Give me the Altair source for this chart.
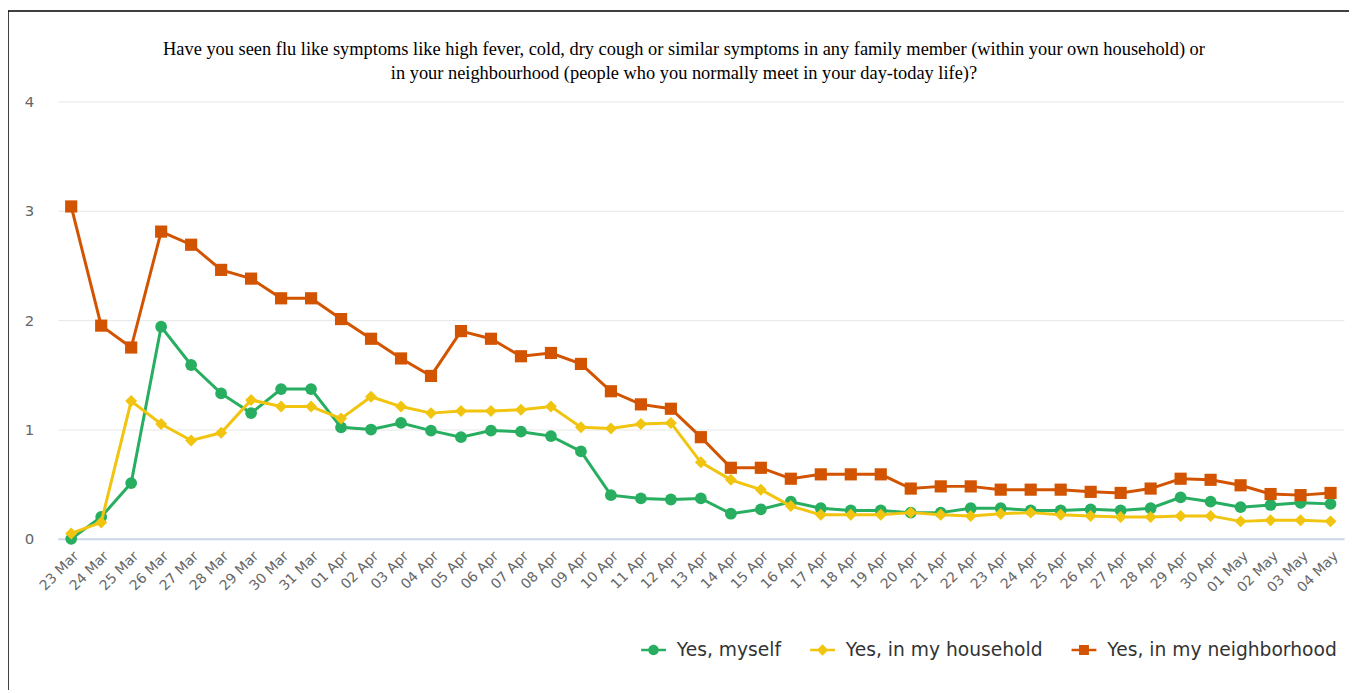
import altair as alt
import pandas as pd

dates = ["23 Mar", "24 Mar", "25 Mar", "26 Mar", "27 Mar", "28 Mar", "29 Mar", "30 Mar", "31 Mar",
         "01 Apr", "02 Apr", "03 Apr", "04 Apr", "05 Apr", "06 Apr", "07 Apr", "08 Apr", "09 Apr",
         "10 Apr", "11 Apr", "12 Apr", "13 Apr", "14 Apr", "15 Apr", "16 Apr", "17 Apr", "18 Apr",
         "19 Apr", "20 Apr", "21 Apr", "22 Apr", "23 Apr", "24 Apr", "25 Apr", "26 Apr", "27 Apr",
         "28 Apr", "29 Apr", "30 Apr", "01 May", "02 May", "03 May", "04 May"]

myself = [0.0, 0.2, 0.51, 1.94, 1.59, 1.33, 1.15, 1.37, 1.37,
          1.02, 1.0, 1.06, 0.99, 0.93, 0.99, 0.98, 0.94, 0.8,
          0.4, 0.37, 0.36, 0.37, 0.23, 0.27, 0.34, 0.28, 0.26,
          0.26, 0.24, 0.24, 0.28, 0.28, 0.26, 0.26, 0.27, 0.26,
          0.28, 0.38, 0.34, 0.29, 0.31, 0.33, 0.32]

household = [0.05, 0.15, 1.26, 1.05, 0.9, 0.97, 1.27, 1.21, 1.21,
             1.1, 1.3, 1.21, 1.15, 1.17, 1.17, 1.18, 1.21, 1.02,
             1.01, 1.05, 1.06, 0.7, 0.54, 0.45, 0.3, 0.22, 0.22,
             0.22, 0.24, 0.22, 0.21, 0.23, 0.24, 0.22, 0.21, 0.2,
             0.2, 0.21, 0.21, 0.16, 0.17, 0.17, 0.16]

neighborhood = [3.04, 1.95, 1.75, 2.81, 2.69, 2.46, 2.38, 2.2, 2.2,
                2.01, 1.83, 1.65, 1.49, 1.9, 1.83, 1.67, 1.7, 1.6,
                1.35, 1.23, 1.19, 0.93, 0.65, 0.65, 0.55, 0.59, 0.59,
                0.59, 0.46, 0.48, 0.48, 0.45, 0.45, 0.45, 0.43, 0.42,
                0.46, 0.55, 0.54, 0.49, 0.41, 0.40, 0.42]

series = ["Yes, myself", "Yes, in my household", "Yes, in my neighborhood"]
colors = ["#27ae60", "#f1c40f", "#d35400"]
shapes = ["circle", "diamond", "square"]
sizes = [140, 150, 190]

title_lines = [
    "Have you seen flu like symptoms like high fever, cold, dry cough or similar symptoms in any family member (within your own household) or",
    "in your neighbourhood (people who you normally meet in your day-today life)?",
]

# legend symbols: marker with a short line through it
legend_paths = [
    "M-2.5,-0.25 L2.5,-0.25 L2.5,0.25 L-2.5,0.25 Z M1.05,0 A1.05,1.05 0 1,1 -1.05,0 A1.05,1.05 0 1,1 1.05,0 Z",
    "M-2.5,-0.25 L2.5,-0.25 L2.5,0.25 L-2.5,0.25 Z M0,-1.15 L1.15,0 L0,1.15 L-1.15,0 Z",
    "M-2.5,-0.25 L2.5,-0.25 L2.5,0.25 L-2.5,0.25 Z M-1.0,-1.0 L1.0,-1.0 L1.0,1.0 L-1.0,1.0 Z",
]

rows = []
for name, vals in zip(series, [myself, household, neighborhood]):
    for d, v in zip(dates, vals):
        rows.append({"date": d, "value": v, "series": name})
df = pd.DataFrame(rows)

FONT = "DejaVu Sans"

x_enc = alt.X("date:O", sort=dates, title=None,
              scale=alt.Scale(padding=0.45),
              axis=alt.Axis(labelAngle=-45, labelFont=FONT, labelFontSize=14, labelColor="#666666",
                            domainColor="#ccd6eb", domainWidth=2, ticks=False, grid=False,
                            labelPadding=10))
y_enc = alt.Y("value:Q", title=None,
              scale=alt.Scale(domain=[0, 4]),
              axis=alt.Axis(values=[0, 1, 2, 3, 4], format="d", labelFont=FONT, labelFontSize=15,
                            labelColor="#666666", domain=False, ticks=False, gridColor="#e6e6e6",
                            gridWidth=1, labelPadding=24))

color_enc = alt.Color("series:N", scale=alt.Scale(domain=series, range=colors), legend=None)
shape_enc = alt.Shape("series:N", scale=alt.Scale(domain=series, range=shapes), legend=None)
size_enc = alt.Size("series:N", scale=alt.Scale(domain=series, range=sizes), legend=None)

layers = []

border = alt.Chart(pd.DataFrame({"a": [0]})).mark_rect(
    fill="white", fillOpacity=0, stroke="black", strokeWidth=1.5
).encode(x=alt.value(-50), x2=alt.value(1320), y=alt.value(-91), y2=alt.value(620))
layers.append(border)

base = alt.Chart(df)
for name in series:
    sub = base.transform_filter(alt.datum.series == name)
    layers.append(sub.mark_line(strokeWidth=3).encode(x=x_enc, y=y_enc, color=color_enc))
    layers.append(sub.mark_point(filled=True, opacity=1).encode(
        x=x_enc, y=y_enc, color=color_enc, shape=shape_enc, size=size_enc))

leg = alt.Legend(title=None, orient="none", direction="horizontal",
                 legendX=590, legendY=542, symbolSize=100,
                 labelFont=FONT, labelFontSize=18.8, labelColor="#333333", labelLimit=0,
                 labelOffset=14, columnPadding=28, symbolStrokeWidth=0)

legend_layer = base.transform_filter("false").mark_point(filled=True, opacity=1).encode(
    color=alt.Color("series:N", scale=alt.Scale(domain=series, range=colors), legend=leg),
    shape=alt.Shape("series:N", scale=alt.Scale(domain=series, range=legend_paths), legend=leg),
)
layers.append(legend_layer)

chart = alt.layer(*layers).resolve_scale(
    color="independent", shape="independent", size="independent"
).properties(
    width=1294,
    height=440,
    background="white",
    autosize=alt.AutoSizeParams(type="none"),
    padding={"left": 50, "top": 92, "right": 5, "bottom": 150},
    title=alt.Title(title_lines, anchor="middle", frame="group", font="Liberation Serif", fontSize=18.5,
                    fontWeight="normal", color="#000000", lineHeight=25, offset=16, dx=-17, dy=89),
).configure_view(strokeWidth=0, stroke="transparent")

chart.save("out.html", embed_options={"renderer": "svg", "actions": False})
